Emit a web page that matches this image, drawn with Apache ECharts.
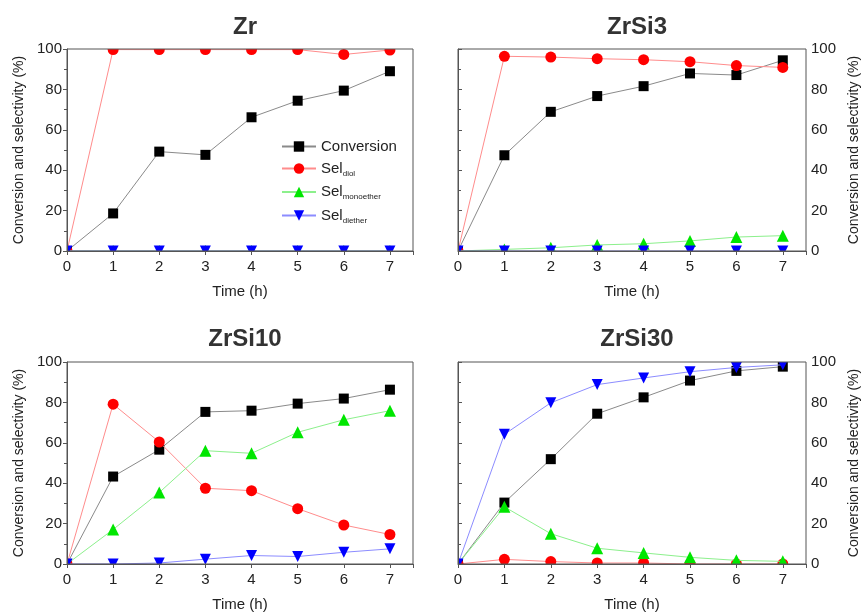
<!DOCTYPE html>
<html>
<head>
<meta charset="utf-8">
<script src="https://cdn.jsdelivr.net/npm/echarts@6/dist/echarts.min.js"></script>
<style>
html,body{margin:0;padding:0;background:#fff;}
#chart{width:865px;height:614px;}
</style>
</head>
<body>
<div id="chart"></div>
<script>
// ---- data ----
const time = [0, 1, 2, 3, 4, 5, 6, 7];
const panelTitles = ['Zr', 'ZrSi3', 'ZrSi10', 'ZrSi30'];
const seriesNames = ['Conversion', 'Sel_diol', 'Sel_monoether', 'Sel_diether'];

const zrConversion   = [0, 18.6, 49.2, 47.6, 66.2, 74.4, 79.4, 89.0];
const zrDiol         = [0, 99.7, 99.7, 99.7, 99.7, 99.7, 97.3, 99.5];
const zrMonoether    = [0, 0, 0, 0, 0, 0, 0, 0];
const zrDiether      = [0, 0, 0, 0, 0, 0, 0, 0];

const zrsi3Conversion = [0, 47.4, 68.9, 76.7, 81.6, 87.9, 87.1, 94.4];
const zrsi3Diol       = [0, 96.4, 96.0, 95.2, 94.7, 93.7, 91.8, 90.9];
const zrsi3Monoether  = [0, 0.8, 1.6, 3.0, 3.6, 5.0, 6.9, 7.6];
const zrsi3Diether    = [0, 0, 0, 0, 0, 0, 0, 0];

const zrsi10Conversion = [0, 43.3, 56.6, 75.3, 75.9, 79.4, 81.9, 86.3];
const zrsi10Diol       = [0, 79.1, 60.4, 37.5, 36.3, 27.4, 19.3, 14.6];
const zrsi10Monoether  = [0, 17.1, 35.4, 56.1, 54.8, 65.2, 71.4, 75.9];
const zrsi10Diether    = [0, 0, 0.5, 2.4, 4.2, 3.7, 5.8, 7.5];

const zrsi30Conversion = [0, 30.4, 51.9, 74.4, 82.5, 90.8, 95.6, 97.7];
const zrsi30Diol       = [0, 2.3, 1.2, 0.5, 0.5, 0, 0, 0];
const zrsi30Monoether  = [0, 28.3, 15.0, 7.8, 5.5, 3.3, 1.8, 1.3];
const zrsi30Diether    = [0, 64.2, 79.8, 88.8, 92.1, 95.2, 97.3, 98.6];

const panelData = [
  [zrConversion, zrDiol, zrMonoether, zrDiether],
  [zrsi3Conversion, zrsi3Diol, zrsi3Monoether, zrsi3Diether],
  [zrsi10Conversion, zrsi10Diol, zrsi10Monoether, zrsi10Diether],
  [zrsi30Conversion, zrsi30Diol, zrsi30Monoether, zrsi30Diether]
];
const xTicks = [0, 1, 2, 3, 4, 5, 6, 7];
const yTicks = [0, 20, 40, 60, 80, 100];

// ---- styles ----
const FONT = 'Liberation Sans, Arial, sans-serif';
const markerColors = ['#000000', '#ff0000', '#00e600', '#0000ff'];
const lineColors = ['#8a8a8a', '#ff8c8c', '#8cf08c', '#8c8cff'];
const symbols = ['rect', 'circle', 'triangle', 'triangle'];
const symbolRot = [0, 0, 0, 180];
const symbolSizes = [10, 11, 12, 11];

const grids = [
  {left: 67, top: 49, width: 346, height: 202},
  {left: 458, top: 49, width: 348, height: 202},
  {left: 67, top: 362, width: 346, height: 202},
  {left: 458, top: 362, width: 348, height: 202}
];

const axisColor = '#555';
const textColor = '#222';

// white frames that clip markers at the plot edges (drawn under axes)
const masks = [];
grids.forEach(g => {
  const M = 9;
  const L = g.left, T = g.top, R = g.left + g.width, B = g.top + g.height;
  masks.push({type: 'rect', z: 50, silent: true, shape: {x: L - M, y: T - M, width: g.width + 2 * M, height: M}, style: {fill: '#fff'}});
  masks.push({type: 'rect', z: 50, silent: true, shape: {x: L - M, y: B, width: g.width + 2 * M, height: M}, style: {fill: '#fff'}});
  masks.push({type: 'rect', z: 50, silent: true, shape: {x: L - M, y: T - M, width: M, height: g.height + 2 * M}, style: {fill: '#fff'}});
  masks.push({type: 'rect', z: 50, silent: true, shape: {x: R, y: T - M, width: M, height: g.height + 2 * M}, style: {fill: '#fff'}});
});

const option = {
  animation: false,
  backgroundColor: '#fff',
  textStyle: {fontFamily: FONT},
  graphic: {elements: masks},
  title: grids.map((g, i) => ({
    text: panelTitles[i],
    left: g.left + g.width / 2,
    top: i < 2 ? 10 : 322,
    textAlign: 'center',
    textStyle: {fontSize: 24, fontWeight: 'bold', color: '#333', fontFamily: FONT}
  })),
  legend: {
    orient: 'vertical',
    left: 281,
    top: 139,
    padding: 0,
    itemWidth: 34,
    itemHeight: 13,
    itemGap: 7,
    z: 60,
    data: seriesNames,
    formatter: function (name) {
      if (name === 'Conversion') return '{m|Conversion}';
      const parts = name.split('_');
      return '{m|' + parts[0] + '}{s|' + parts[1] + '}';
    },
    textStyle: {
      fontFamily: FONT,
      color: textColor,
      rich: {
        m: {fontSize: 15, color: textColor, fontFamily: FONT},
        s: {fontSize: 8, color: textColor, fontFamily: FONT, padding: [10, 0, 0, 0]}
      }
    }
  },
  grid: grids.map(g => Object.assign({}, g, {show: true, z: 60, borderColor: axisColor, borderWidth: 1, containLabel: false})),
  xAxis: grids.map((g, i) => ({
    type: 'value',
    gridIndex: i,
    z: 60,
    min: 0,
    max: 7.5,
    interval: 1,
    name: 'Time (h)',
    nameLocation: 'middle',
    nameGap: 33,
    nameTextStyle: {fontSize: 15, color: textColor, fontFamily: FONT},
    axisLine: {show: true, onZero: false, lineStyle: {color: axisColor, width: 1}},
    axisTick: {show: true, inside: false, length: 4, lineStyle: {color: axisColor}},
    minorTick: {show: false},
    splitLine: {show: false},
    axisLabel: {
      fontSize: 15, color: textColor, margin: 8, fontFamily: FONT,
      formatter: v => (xTicks.indexOf(v) >= 0 ? String(v) : '')
    }
  })),
  yAxis: grids.map((g, i) => ({
    type: 'value',
    gridIndex: i,
    z: 60,
    position: (i % 2 === 0) ? 'left' : 'right',
    min: 0,
    max: 100,
    interval: 20,
    name: 'Conversion and selectivity (%)',
    nameLocation: 'middle',
    nameRotate: 90,
    nameGap: 41,
    nameTextStyle: {fontSize: 14, color: textColor, fontFamily: FONT},
    axisLine: {show: true, lineStyle: {color: axisColor, width: 1}},
    axisTick: {show: true, inside: false, length: 4, lineStyle: {color: axisColor}},
    minorTick: {show: true, splitNumber: 2, length: 3, lineStyle: {color: axisColor}},
    splitLine: {show: false},
    axisLabel: {
      fontSize: 15, color: textColor, margin: 5, fontFamily: FONT,
      formatter: v => (yTicks.indexOf(v) >= 0 ? String(v) : '')
    }
  })),
  series: []
};

for (let p = 0; p < 4; p++) {
  for (let s = 0; s < 4; s++) {
    option.series.push({
      type: 'line',
      name: seriesNames[s],
      xAxisIndex: p,
      yAxisIndex: p,
      data: time.map((t, k) => [t, panelData[p][s][k]]),
      symbol: symbols[s],
      symbolRotate: symbolRot[s],
      symbolSize: symbolSizes[s],
      showAllSymbol: true,
      clip: false,
      itemStyle: {color: markerColors[s], opacity: 1},
      lineStyle: {color: lineColors[s], width: 1},
      emphasis: {disabled: true},
      z: 2 + s
    });
  }
}

const chart = echarts.init(document.getElementById('chart'), null, {renderer: 'canvas'});
chart.setOption(option);
</script>
</body>
</html>
